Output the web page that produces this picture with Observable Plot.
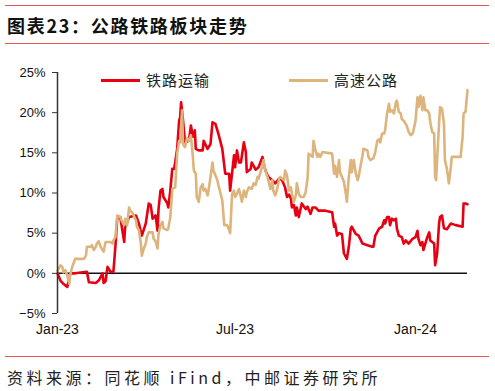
<!DOCTYPE html>
<html><head><meta charset="utf-8">
<script src="https://cdn.jsdelivr.net/npm/d3@7"></script>
<script src="https://cdn.jsdelivr.net/npm/@observablehq/plot@0.6"></script>
<style>
html,body{margin:0;padding:0;background:#fff;}
#wrap{position:relative;width:495px;height:391px;overflow:hidden;font-family:"Noto Sans CJK SC","Noto Sans",sans-serif;}
.hr{position:absolute;left:5px;width:484px;height:1.5px;background:#e05858;}
#title{position:absolute;left:7px;top:12px;font-size:18px;font-weight:700;letter-spacing:1.7px;color:#111;line-height:26px;white-space:nowrap;}
#source{position:absolute;left:7px;top:365px;font-size:16px;letter-spacing:3.5px;color:#222;line-height:24px;white-space:nowrap;}
#chart{position:absolute;left:0;top:50px;}
.lg-line{position:absolute;height:3px;width:39px;}
.lg-text{position:absolute;font-size:15px;color:#222;line-height:20px;letter-spacing:1px;white-space:nowrap;}
</style></head>
<body><div id="wrap">
<div class="hr" style="top:4.5px"></div>
<div id="title">图表23：公路铁路板块走势</div>
<div class="hr" style="top:42.5px"></div>
<div id="chart"></div>
<div class="lg-line" style="left:101px;top:78.5px;background:#e60012"></div>
<div class="lg-text" style="left:146px;top:70px">铁路运输</div>
<div class="lg-line" style="left:289px;top:78.5px;background:#ddb47c"></div>
<div class="lg-text" style="left:334px;top:70px">高速公路</div>
<div class="hr" style="top:355.5px"></div>
<div id="source">资料来源：同花顺 iFind，中邮证券研究所</div>
</div>
<script>
const seriesNames = ["铁路运输", "高速公路"];
const railDates = ["2023-01-01","2023-01-04","2023-01-07","2023-01-11","2023-01-12","2023-01-14","2023-01-19","2023-01-31","2023-02-02","2023-02-09","2023-02-12","2023-02-16","2023-02-17","2023-02-19","2023-02-21","2023-02-24","2023-02-27","2023-03-01","2023-03-03","2023-03-06","2023-03-10","2023-03-11","2023-03-15","2023-03-22","2023-03-25","2023-03-28","2023-04-01","2023-04-04","2023-04-06","2023-04-08","2023-04-11","2023-04-13","2023-04-14","2023-04-16","2023-04-18","2023-04-19","2023-04-23","2023-04-24","2023-04-26","2023-04-28","2023-04-30","2023-05-03","2023-05-05","2023-05-06","2023-05-07","2023-05-09","2023-05-11","2023-05-15","2023-05-17","2023-05-19","2023-05-21","2023-05-22","2023-05-25","2023-05-29","2023-05-30","2023-06-03","2023-06-06","2023-06-08","2023-06-11","2023-06-14","2023-06-18","2023-06-21","2023-06-25","2023-06-26","2023-06-30","2023-07-01","2023-07-03","2023-07-05","2023-07-07","2023-07-10","2023-07-12","2023-07-13","2023-07-17","2023-07-18","2023-07-22","2023-07-25","2023-07-29","2023-07-30","2023-08-01","2023-08-04","2023-08-08","2023-08-11","2023-08-15","2023-08-18","2023-08-21","2023-08-23","2023-08-25","2023-08-27","2023-08-28","2023-08-30","2023-09-01","2023-09-02","2023-09-04","2023-09-07","2023-09-11","2023-09-13","2023-09-16","2023-09-18","2023-09-21","2023-09-24","2023-10-01","2023-10-08","2023-10-10","2023-10-11","2023-10-13","2023-10-15","2023-10-18","2023-10-20","2023-10-23","2023-10-25","2023-10-27","2023-10-28","2023-11-01","2023-11-04","2023-11-08","2023-11-13","2023-11-18","2023-11-19","2023-11-21","2023-11-25","2023-11-28","2023-11-30","2023-12-01","2023-12-03","2023-12-05","2023-12-06","2023-12-08","2023-12-10","2023-12-12","2023-12-13","2023-12-15","2023-12-18","2023-12-20","2023-12-22","2023-12-25","2023-12-29","2024-01-01","2024-01-03","2024-01-04","2024-01-06","2024-01-08","2024-01-09","2024-01-11","2024-01-13","2024-01-15","2024-01-16","2024-01-20","2024-01-21","2024-01-23","2024-01-25","2024-01-26","2024-01-28","2024-01-30","2024-02-02","2024-02-06","2024-02-11","2024-02-18","2024-02-19","2024-02-21","2024-02-23"];
const railValues = [0,-0.9,-1.3,-1.7,-1.1,0,0,0.2,-1.1,-1.2,-0.9,0,-1.2,-1.0,0.8,0.2,0.2,3.3,7.0,7.0,3.9,5.8,7.0,7.2,6.2,4.7,6.2,8.7,8.5,6.8,7.2,5.3,8.0,10.3,10.5,9.5,8.7,8.2,10.3,13.0,13.0,15.5,19.0,19.4,21.3,19.0,16.3,16.5,18.4,17.0,17.8,15.5,15.3,15.3,16.5,15.5,16.1,18.8,18.6,17.4,15.5,12.4,12.4,10.3,14.7,13.2,15.3,13.8,13.8,16.3,15.1,12.6,13.0,13.8,12.9,13.2,14.5,13.8,12.8,12.0,11.6,11.2,11.8,11.6,10.7,9.5,9.8,9.3,8.2,8.5,7.2,8.2,7.0,8.7,8.0,8.3,7.4,8.2,8.2,7.8,7.8,7.6,5.8,6.2,4.7,5.0,4.9,2.5,1.8,3.3,5.6,5.8,4.9,4.7,3.7,3.5,3.3,3.3,4.7,5.6,5.8,6.6,6.2,7.0,7.0,6.0,6.8,6.6,6.8,5.6,4.7,4.5,3.7,4.1,3.7,4.3,4.5,5.3,4.3,3.5,3.9,2.9,3.7,4.5,5.1,4.1,3.7,1.0,2.4,6.2,7.0,7.2,5.6,5.5,6.2,6.0,5.8,8.7,8.7,8.6];
const roadDates = ["2023-01-01","2023-01-04","2023-01-06","2023-01-07","2023-01-09","2023-01-11","2023-01-13","2023-01-14","2023-01-16","2023-01-19","2023-01-28","2023-01-30","2023-01-31","2023-02-04","2023-02-05","2023-02-07","2023-02-09","2023-02-10","2023-02-12","2023-02-14","2023-02-16","2023-02-17","2023-02-19","2023-02-24","2023-02-26","2023-02-27","2023-03-01","2023-03-03","2023-03-06","2023-03-08","2023-03-10","2023-03-11","2023-03-13","2023-03-15","2023-03-16","2023-03-18","2023-03-22","2023-03-23","2023-03-25","2023-03-27","2023-03-28","2023-03-30","2023-04-01","2023-04-02","2023-04-04","2023-04-08","2023-04-09","2023-04-11","2023-04-13","2023-04-14","2023-04-16","2023-04-18","2023-04-19","2023-04-23","2023-04-24","2023-04-26","2023-04-28","2023-05-01","2023-05-03","2023-05-05","2023-05-06","2023-05-08","2023-05-09","2023-05-11","2023-05-13","2023-05-15","2023-05-17","2023-05-19","2023-05-20","2023-05-22","2023-05-23","2023-05-25","2023-05-27","2023-05-29","2023-05-30","2023-06-01","2023-06-03","2023-06-04","2023-06-06","2023-06-08","2023-06-09","2023-06-11","2023-06-13","2023-06-14","2023-06-18","2023-06-20","2023-06-23","2023-06-25","2023-06-26","2023-06-28","2023-06-30","2023-07-01","2023-07-03","2023-07-05","2023-07-07","2023-07-08","2023-07-10","2023-07-12","2023-07-13","2023-07-15","2023-07-18","2023-07-20","2023-07-22","2023-07-24","2023-07-25","2023-07-29","2023-07-30","2023-08-01","2023-08-03","2023-08-04","2023-08-06","2023-08-08","2023-08-09","2023-08-11","2023-08-13","2023-08-15","2023-08-16","2023-08-20","2023-08-21","2023-08-23","2023-08-25","2023-08-27","2023-08-28","2023-08-30","2023-09-01","2023-09-02","2023-09-04","2023-09-06","2023-09-09","2023-09-11","2023-09-13","2023-09-14","2023-09-18","2023-09-19","2023-09-21","2023-09-23","2023-09-24","2023-09-26","2023-09-28","2023-10-08","2023-10-10","2023-10-11","2023-10-13","2023-10-15","2023-10-16","2023-10-20","2023-10-22","2023-10-23","2023-10-25","2023-10-27","2023-10-28","2023-10-30","2023-11-01","2023-11-03","2023-11-04","2023-11-06","2023-11-08","2023-11-09","2023-11-13","2023-11-14","2023-11-16","2023-11-19","2023-11-21","2023-11-23","2023-11-25","2023-11-26","2023-11-28","2023-11-30","2023-12-01","2023-12-03","2023-12-05","2023-12-06","2023-12-08","2023-12-10","2023-12-12","2023-12-13","2023-12-15","2023-12-17","2023-12-18","2023-12-20","2023-12-22","2023-12-23","2023-12-25","2023-12-27","2023-12-29","2023-12-30","2024-01-01","2024-01-03","2024-01-04","2024-01-06","2024-01-08","2024-01-09","2024-01-11","2024-01-13","2024-01-15","2024-01-16","2024-01-18","2024-01-20","2024-01-21","2024-01-22","2024-01-23","2024-01-25","2024-01-26","2024-01-28","2024-01-30","2024-01-31","2024-02-02","2024-02-04","2024-02-06","2024-02-07","2024-02-16","2024-02-18","2024-02-19","2024-02-21","2024-02-23"];
const roadValues = [0.3,1.0,0.8,0.1,0.4,-0.3,-1.3,-0.2,0.8,1.8,1.8,2.2,3.3,3.3,3.5,2.9,3.3,3.7,4.0,3.3,2.9,2.7,3.9,3.9,3.7,4.1,4.5,7.2,7.0,6.4,6.0,6.8,6.0,8.2,7.8,7.6,6.6,5.8,5.4,3.7,2.2,3.1,3.7,4.5,5.1,5.1,4.3,4.0,3.1,4.9,6.0,6.4,5.6,5.4,5.6,7.0,10.5,10.7,14.9,16.5,16.3,20.3,16.1,15.7,16.8,16.5,17.2,14.5,12.8,12.4,9.5,8.9,10.7,11.1,10.3,10.5,9.7,10.3,12.0,13.8,12.8,12.2,11.6,11.0,9.1,6.0,6.0,5.4,5.0,9.9,10.3,9.5,9.9,10.5,9.5,8.9,10.3,9.5,10.1,10.7,10.5,11.2,11.0,12.0,11.8,13.4,14.1,12.8,12.0,11.6,10.5,11.6,10.3,9.7,10.5,11.8,12.0,11.6,12.8,12.2,10.3,10.7,9.9,8.9,9.7,11.2,9.9,9.5,9.5,10.1,11.9,14.9,14.5,16.5,15.3,14.5,14.9,14.5,15.1,14.9,12.4,13.4,12.0,14.1,12.6,11.4,9.9,8.9,12.0,14.1,12.6,14.1,12.5,11.6,12.0,13.4,14.7,15.5,15.3,14.5,14.1,14.3,15.1,16.5,16.7,16.3,17.4,17.4,17.8,19.9,21.1,20.1,20.3,19.9,21.3,21.5,20.1,19.9,19.2,19.0,18.6,18.4,17.6,17.2,17.4,17.8,19.0,21.9,20.7,22.1,20.3,21.9,20.3,20.3,19.9,18.8,17.6,17.4,12.0,11.6,14.1,18.6,20.7,20.5,18.6,14.1,13.0,11.2,13.2,14.5,14.5,17.0,19.9,20.1,22.8];
const yTicks = [-5, 0, 5, 10, 15, 20, 25];
const xTickDates = ["2023-01-01", "2023-07-01", "2024-01-01"];
const xTickLabels = ["Jan-23", "Jul-23", "Jan-24"];
const colors = ["#e60012", "#ddb47c"];

const parse = d3.utcParse("%Y-%m-%d");
const rail = railDates.map((d, i) => ({date: parse(d), v: railValues[i]}));
const road = roadDates.map((d, i) => ({date: parse(d), v: roadValues[i]}));
const xStart = parse(railDates[0]);
const xEnd = parse(railDates[railDates.length - 1]);
const xt = xTickDates.map(parse);

const chart = Plot.plot({
  width: 495, height: 298,
  marginTop: 22, marginBottom: 35, marginLeft: 57, marginRight: 28,
  style: {fontFamily: "'Liberation Sans', Arial, sans-serif", background: "transparent"},
  x: {type: "utc", domain: [xStart, xEnd], axis: null},
  y: {domain: [-5, 25], axis: null},
  marks: [
    Plot.ruleY([0], {stroke: "#111", strokeWidth: 1.5}),
    Plot.line(rail, {x: "date", y: "v", stroke: colors[0], strokeWidth: 2.6, strokeLinejoin: "round"}),
    Plot.line(road, {x: "date", y: "v", stroke: colors[1], strokeWidth: 2.6, strokeLinejoin: "round"}),
    Plot.ruleX([xStart], {stroke: "#333", strokeWidth: 1.5}),
    Plot.axisY({ticks: yTicks, tickSize: 5, tickPadding: 7, fontSize: 13, label: null, tickFormat: d => (d < 0 ? "\u2212" + (-d) : d) + "%", stroke: "#333", color: "#111"}),
    Plot.axisX({ticks: xt, tickSize: 0, tickPadding: 11, fontSize: 14, label: null, tickFormat: (d, i) => xTickLabels[i], color: "#111"})
  ]
});
document.getElementById("chart").appendChild(chart);
</script>
</body></html>
